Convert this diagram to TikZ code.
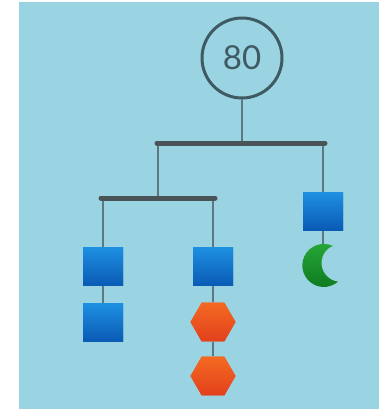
\documentclass[tikz,border=0pt]{standalone}
\usepackage{fontspec}
\setmainfont{Lato}
\usetikzlibrary{shapes.geometric,calc}
\definecolor{bg}{HTML}{9AD4E2}
\definecolor{ring}{HTML}{405A63}
\definecolor{barc}{HTML}{4A5358}
\definecolor{strc}{HTML}{5C7880}
\definecolor{sqtop}{HTML}{1E90E2}
\definecolor{sqbot}{HTML}{0A5BB5}
\definecolor{hxtop}{HTML}{F46A22}
\definecolor{hxbot}{HTML}{E2401C}
\definecolor{mntop}{HTML}{28A838}
\definecolor{mnbot}{HTML}{0E7A20}
\tikzset{
  bar/.style={line width=5pt, line cap=round, draw=barc},
  strng/.style={line width=1.5pt, draw=strc},
  sq/.style={rectangle, minimum width=40pt, minimum height=38pt, inner sep=0pt, top color=sqtop, bottom color=sqbot, draw=none},
  hexa/.style={regular polygon, regular polygon sides=6, minimum size=45pt, inner sep=0pt, top color=hxtop, bottom color=hxbot, draw=none},
}
\begin{document}
\begin{tikzpicture}[x=1pt,y=-1pt]
\useasboundingbox (0,0) rectangle (379,409);
\fill[white] (0,0) rectangle (379,409);
\fill[bg] (19,2) rectangle (379,409);
% top circle
\node[circle, draw=ring, line width=3pt, minimum size=80pt, inner sep=0pt, text=ring, font=\fontsize{33}{33}\selectfont] (top) at (242,58) {80};
% bars
\coordinate (b1l) at (157,143);
\coordinate (b1r) at (325,143);
\coordinate (b1c) at (242,143);
\coordinate (b1a) at (158,143);
\coordinate (b1b) at (323,143);
\coordinate (b2l) at (101,198);
\coordinate (b2r) at (215,198);
\coordinate (b2c) at (158,198);
\coordinate (b2a) at (103,198);
\coordinate (b2b) at (213,198);
% shapes
\node[sq] (r1) at (323,211) {};
\node[sq] (l1) at (103,266) {};
\node[sq] (l2) at (103,322) {};
\node[sq] (m1) at (213,266) {};
\node[hexa] (h1) at (213,322) {};
\node[hexa] (h2) at (213,376) {};
\coordinate (moon) at (323,252);
% strings
\draw[strng] (top) -- (b1c);
\draw[strng] (b1a) -- (b2c);
\draw[strng] (b1b) -- (r1);
\draw[strng] (b2a) -- (l1);
\draw[strng] (b2b) -- (m1);
\draw[strng] (l1) -- (l2);
\draw[strng] (m1) -- (h1);
\draw[strng] (h1) -- (h2);
\draw[strng] (r1) -- (moon);
\draw[bar] (b1l) -- (b1r);
\draw[bar] (b2l) -- (b2r);
% redraw shapes on top of strings
\node[sq] at (r1) {};
\node[sq] at (l1) {};
\node[sq] at (l2) {};
\node[sq] at (m1) {};
\node[hexa] at (h1) {};
\node[hexa] at (h2) {};
% moon (crescent)
\shade[top color=mntop, bottom color=mnbot]
  (333,246) arc[start angle=-64.7, end angle=-311.2, radius=21.5]
  arc[start angle=96.9, end angle=246.8, radius=18.8] -- cycle;
\end{tikzpicture}
\end{document}
